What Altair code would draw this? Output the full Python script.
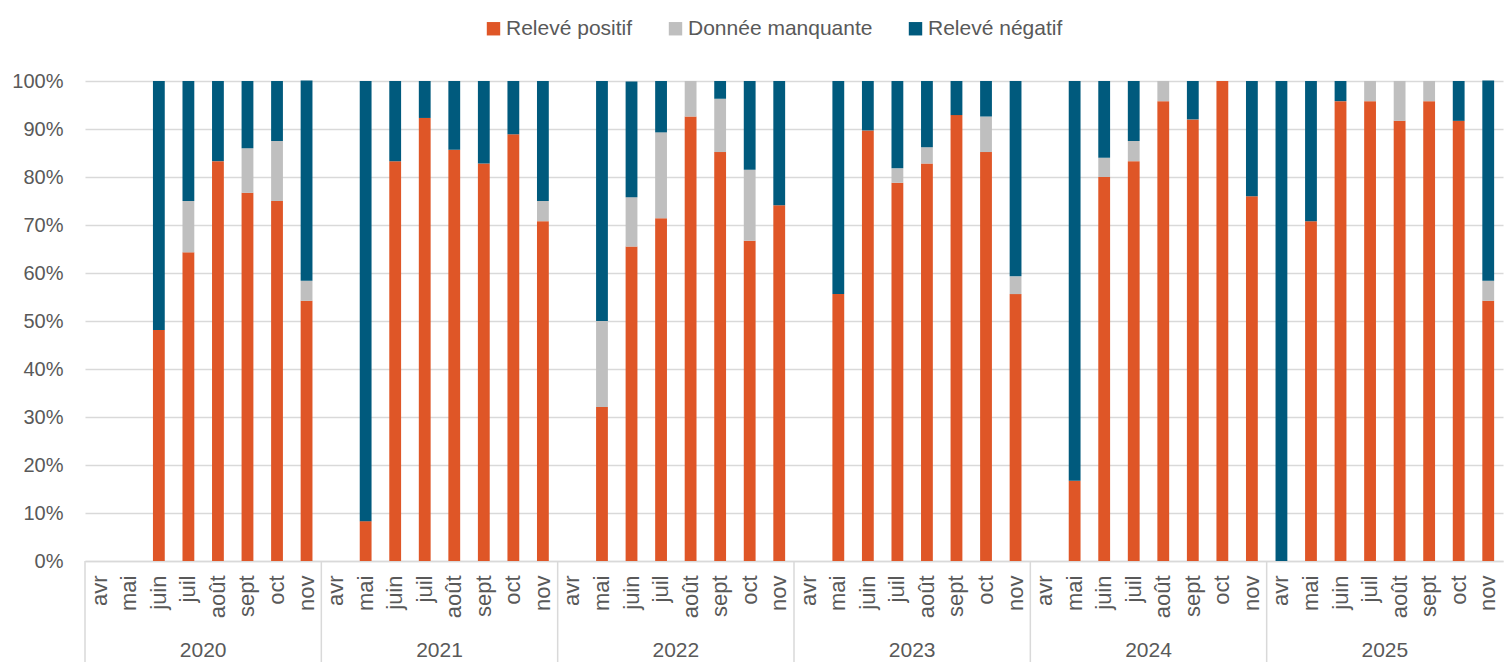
import altair as alt
import pandas as pd

years = ["2020", "2021", "2022", "2023", "2024", "2025"]
months = ["avr", "mai", "juin", "juil", "août", "sept", "oct", "nov"]
series = ["Relevé positif", "Donnée manquante", "Relevé négatif"]
colors = ["#DF5627", "#BFBFBF", "#005A7D"]

# percentages per year, months avr..nov (None = no data)
positif = {
    "2020": [None, None, 48.1, 64.3, 83.3, 76.7, 75.0, 54.2],
    "2021": [None, 8.3, 83.3, 92.3, 85.7, 82.8, 88.9, 70.8],
    "2022": [None, 32.1, 65.5, 71.4, 92.6, 85.2, 66.7, 74.1],
    "2023": [None, 55.6, 89.7, 78.8, 82.8, 92.9, 85.2, 55.6],
    "2024": [None, 16.7, 80.0, 83.3, 95.8, 92.0, 100.0, 76.0],
    "2025": [0.0, 70.8, 95.8, 95.8, 91.7, 95.8, 91.7, 54.2],
}
manquante = {
    "2020": [None, None, 0.0, 10.7, 0.0, 9.3, 12.5, 4.2],
    "2021": [None, 0.0, 0.0, 0.0, 0.0, 0.0, 0.0, 4.2],
    "2022": [None, 17.9, 10.3, 17.9, 7.4, 11.1, 14.8, 0.0],
    "2023": [None, 0.0, 0.0, 3.0, 3.4, 0.0, 7.4, 3.7],
    "2024": [None, 0.0, 4.0, 4.2, 4.2, 0.0, 0.0, 0.0],
    "2025": [0.0, 0.0, 0.0, 4.2, 8.3, 4.2, 0.0, 4.2],
}
negatif = {
    "2020": [None, None, 51.9, 25.0, 16.7, 14.0, 12.5, 41.7],
    "2021": [None, 91.7, 16.7, 7.7, 14.3, 17.2, 11.1, 25.0],
    "2022": [None, 50.0, 24.1, 10.7, 0.0, 3.7, 18.5, 25.9],
    "2023": [None, 44.4, 10.3, 18.2, 13.8, 7.1, 7.4, 40.7],
    "2024": [None, 83.3, 16.0, 12.5, 0.0, 8.0, 0.0, 24.0],
    "2025": [100.0, 29.2, 4.2, 0.0, 0.0, 0.0, 8.3, 41.7],
}

keys = [f"{y}|{m}" for y in years for m in months]
rows = []
for y in years:
    for i, m in enumerate(months):
        for order, (name, src) in enumerate(zip(series, [positif, manquante, negatif])):
            v = src[y][i]
            if v is None:
                continue
            rows.append({"key": f"{y}|{m}", "serie": name, "ord": order, "value": v / 100.0})
df = pd.DataFrame(rows)
years_df = pd.DataFrame({"year": years})

FONT = "Liberation Sans"
TXT = "#595959"
GRID = "#D9D9D9"

bars = alt.Chart(df).mark_bar().encode(
    x=alt.X(
        "key:N",
        scale=alt.Scale(domain=keys, paddingInner=0.6, paddingOuter=0.3),
        axis=alt.Axis(
            title=None,
            labelExpr="split(datum.value, '|')[1]",
            labelAngle=-90,
            labelAlign="right",
            labelBaseline="middle",
            labelFontSize=22,
            labelColor=TXT,
            labelPadding=14,
            labelOverlap=False,
            labelBound=False,
            ticks=False,
            domainColor=GRID,
            domainWidth=1.5,
        ),
    ),
    y=alt.Y(
        "value:Q",
        stack="zero",
        scale=alt.Scale(domain=[0, 1], nice=False),
        axis=alt.Axis(
            title=None,
            values=[i / 10 for i in range(11)],
            format=".0%",
            labelFontSize=20,
            labelColor=TXT,
            labelPadding=22,
            ticks=False,
            domain=False,
            gridColor=GRID,
            gridWidth=1.5,
        ),
    ),
    color=alt.Color(
        "serie:N",
        scale=alt.Scale(domain=series, range=colors),
        legend=alt.Legend(
            title=None,
            orient="none",
            legendX=398,
            legendY=-63,
            direction="horizontal",
            symbolType="square",
            symbolSize=180,
            symbolStrokeWidth=0,
            labelFontSize=21,
            labelColor=TXT,
            labelOffset=2,
            labelLimit=0,
            columnPadding=32,
            padding=0,
        ),
    ),
    order=alt.Order("ord:Q", sort="ascending"),
)

year_scale = alt.Scale(domain=years, paddingInner=0, paddingOuter=0)

year_text = alt.Chart(years_df).mark_text(
    fontSize=21, color=TXT, baseline="middle", align="center"
).encode(
    x=alt.X("year:N", scale=year_scale, axis=None),
    y=alt.value(570),
    text="year:N",
)

separators = alt.Chart(years_df).mark_rule(color=GRID, strokeWidth=1.5).encode(
    x=alt.X("year:N", scale=year_scale, axis=None, bandPosition=0),
    y=alt.value(480),
    y2=alt.value(601),
)

years_layer = alt.layer(separators, year_text)

chart = (
    alt.layer(bars, years_layer)
    .resolve_scale(x="independent")
    .properties(
        width=1418,
        height=480,
        autosize=alt.AutoSizeParams(type="none"),
        padding={"left": 77, "top": 73, "right": 1, "bottom": 101},
    )
    .configure(font=FONT)
    .configure_view(stroke=None)
)

chart.save("out.html", embed_options={"renderer": "svg", "actions": False})
